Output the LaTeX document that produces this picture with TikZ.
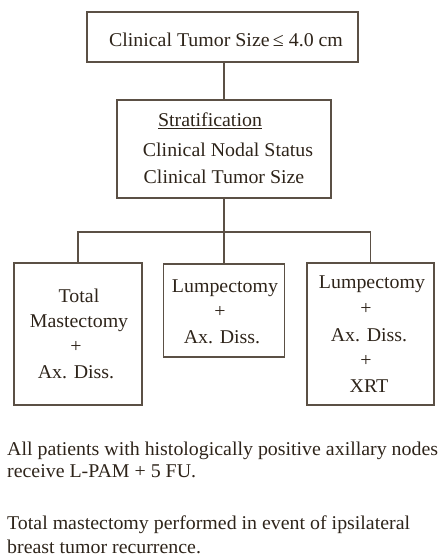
\documentclass[tikz,border=0pt]{standalone}
\usepackage{fontspec}
\setmainfont{Liberation Serif}
\newfontfamily\chartserif{Liberation Serif}[FakeStretch=1.02]
\definecolor{ink}{HTML}{2E241A}
\definecolor{rule}{HTML}{5B5045}
\begin{document}
\begin{tikzpicture}[x=1pt,y=-1pt,
  box/.style={draw=rule,line width=1.6pt,inner sep=0pt,outer sep=0pt},
  txt/.style={text=ink,inner sep=0pt,anchor=base,font=\chartserif\fontsize{19.5}{22}\selectfont},
  ltxt/.style={txt,anchor=base west},
  link/.style={draw=rule,line width=1.6pt}]
\useasboundingbox (0,0) rectangle (441,559);

% boxes
\node[box,minimum width=271pt,minimum height=50pt] (top) at (222.5,37) {};
\node[box,minimum width=214pt,minimum height=98pt] (strat) at (224,149) {};
\node[box,minimum width=128pt,minimum height=142pt] (left) at (78,334) {};
\node[box,minimum width=121pt,minimum height=93pt] (mid) at (224,310.5) {};
\node[box,minimum width=127pt,minimum height=142pt] (right) at (370.5,334) {};

% box texts
\node[txt] (t1) at (226,47) {Clinical Tumor Size\,≤ 4.0 cm};

\node[txt] (s1) at (210,127) {\underline{Stratification}};
\node[txt] (s2) at (228,157) {Clinical Nodal Status};
\node[txt] (s3) at (224,183) {Clinical Tumor Size};

\node[txt] (l1) at (79,302) {Total};
\node[txt] (l2) at (79,327) {Mastectomy};
\node[txt] (l3) at (76,352) {+};
\node[txt] (l4) at (76,378) {Ax. Diss.};

\node[txt] (m1) at (225,292) {Lumpectomy};
\node[txt] (m2) at (220,317) {+};
\node[txt] (m3) at (222,343) {Ax. Diss.};

\node[txt] (r1) at (372,288) {Lumpectomy};
\node[txt] (r2) at (366,314) {+};
\node[txt] (r3) at (369,341) {Ax. Diss.};
\node[txt] (r4) at (366,366) {+};
\node[txt] (r5) at (369,392) {XRT};

% notes below the chart
\node[ltxt] (n1) at (7,455) {All patients with histologically positive axillary nodes};
\node[ltxt] (n2) at (7,477) {receive L-PAM + 5 FU.};
\node[ltxt] (n3) at (7,529) {Total mastectomy performed in event of ipsilateral};
\node[ltxt] (n4) at (7,553) {breast tumor recurrence.};

% connectors
\coordinate (bus) at (224,232);
\draw[link] (strat.north) -- (strat.north |- top.south);
\draw[link] (strat.south) -- (mid.north);
\draw[link] (left.north) |- (bus) -| (right.north);
\end{tikzpicture}
\end{document}
